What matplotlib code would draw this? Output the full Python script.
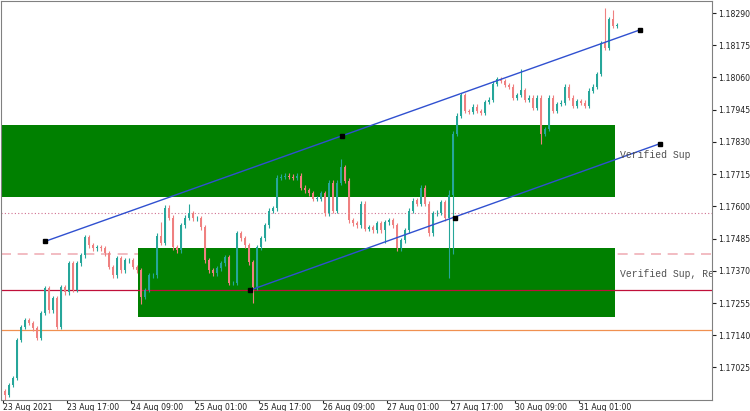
import matplotlib
matplotlib.use("Agg")
import matplotlib.pyplot as plt
import numpy as np

closes = [1.16927,1.16962,1.16987,1.17123,1.17169,1.17194,1.17183,1.17165,1.17130,1.17219,
1.17308,1.17229,1.17272,1.17169,1.17311,1.17293,1.17397,1.17301,1.17397,1.17425,
1.17489,1.17461,1.17450,1.17454,1.17450,1.17432,1.17383,1.17354,1.17415,1.17372,
1.17407,1.17407,1.17383,1.17372,1.17276,1.17301,1.17354,1.17354,1.17496,1.17471,
1.17596,1.17560,1.17454,1.17443,1.17532,1.17560,1.17575,1.17557,1.17557,1.17525,
1.17407,1.17372,1.17361,1.17379,1.17397,1.17418,1.17326,1.17326,1.17504,1.17486,
1.17461,1.17400,1.17311,1.17454,1.17486,1.17532,1.17585,1.17593,1.17703,
1.17706,1.17710,1.17706,1.17703,1.17710,1.17667,
1.17657,1.17646,1.17628,1.17628,1.17646,1.17575,1.17685,1.17585,1.17685,1.17739,
1.17692,1.17550,1.17539,1.17532,1.17610,1.17521,1.17525,1.17514,1.17539,1.17514,
1.17543,1.17550,1.17532,1.17450,1.17479,1.17514,1.17585,1.17621,1.17610,1.17667,
1.17610,1.17504,1.17575,1.17578,1.17614,1.17557,1.17639,
1.17860,1.17924,1.17998,1.17941,1.17938,1.17956,1.17941,1.17934,1.17973,1.17981,
1.18038,1.18055,1.18048,1.18034,1.18027,1.17988,1.17998,1.18016,1.17981,1.17988,
1.17952,1.17988,1.17860,1.17877,1.17988,1.17941,1.17966,1.17970,1.18027,1.17988,
1.17959,1.17977,1.17970,1.17959,1.18013,1.18027,1.18073,1.18184,1.18166,1.18269,
1.18244,1.18248]
first_open = 1.16940
default_wick = 0.00008
extreme_highs = {39: 1.17545, 46: 1.17610, 84: 1.17770, 111: 1.17660, 129: 1.18090, 150: 1.18308, 152: 1.18300}
extreme_lows = {0: 1.16910, 34: 1.17250, 62: 1.17255, 111: 1.17343, 112: 1.17430, 134: 1.17824, 95: 1.17470}

time_labels = ["23 Aug 2021","23 Aug 17:00","24 Aug 09:00","25 Aug 01:00","25 Aug 17:00",
               "26 Aug 09:00","27 Aug 01:00","27 Aug 17:00","30 Aug 09:00","31 Aug 01:00"]
ytick_vals = [1.17025,1.17140,1.17255,1.17370,1.17485,1.17600,1.17715,1.17830,1.17945,1.18060,1.18175,1.18290]

zones = [(-1.5, 152.5, 1.17632, 1.17892), (33.25, 152.5, 1.17204, 1.17450)]
zone_labels = [("Verified Sup", 1.17785), ("Verified Sup, Rete", 1.17358)]
hlines = [(1.17575, '#d07090', (0, (1, 2)), 0.8, 2), (1.17429, '#f0b0b8', (0, (6, 4)), 1.2, 0.5),
          (1.17301, '#c0103a', '-', 0.9, 2), (1.17158, '#f09050', '-', 0.9, 2)]
channel_upper = ([10, 84.25, 158.75], [1.17475, 1.17852, 1.18230])
channel_lower = ([61.25, 112.5, 163.75], [1.17301, 1.17560, 1.17824])

n = len(closes)
opens = [first_open] + closes[:-1]
highs, lows = [], []
for i in range(n):
    highs.append(extreme_highs.get(i, max(opens[i], closes[i]) + default_wick))
    lows.append(extreme_lows.get(i, min(opens[i], closes[i]) - default_wick))

fig = plt.figure(figsize=(7.5, 4.11), dpi=100)
ax = fig.add_axes([1/750, 11/411, 711/750, 399/411])
ax.set_xlim(-1.0, 176.75)
ax.set_ylim(1.16909, 1.18333)

for (x0, x1, y0, y1) in zones:
    ax.fill_between([x0, x1], y0, y1, color='#008000', zorder=1, lw=0)
for y, c, ls, lw, z in hlines:
    ax.axhline(y, color=c, ls=ls, lw=lw, zorder=z)

bull, bear = '#26a69a', '#ef8080'
for i in range(n):
    col = bull if closes[i] >= opens[i] else bear
    ax.vlines(i, lows[i], highs[i], color=col, lw=0.8, zorder=3)
    b0, b1 = sorted([opens[i], closes[i]])
    ax.bar(i, max(b1 - b0, 0.00002), bottom=b0, width=0.7, color=col, lw=0, zorder=4)

for xs, ys in (channel_upper, channel_lower):
    ax.plot([xs[0], xs[-1]], [ys[0], ys[-1]], color='#3050d0', lw=1, zorder=5)
    ax.plot(xs, ys, 's', color='black', ms=2.5, zorder=6)

for txt, y in zone_labels:
    ax.text(153.8, y, txt, family=['Liberation Mono', 'DejaVu Sans Mono'], fontsize=7, color='#505050',
            va='center', ha='left', zorder=7, clip_on=True)

ax.yaxis.tick_right()
ax.set_yticks(ytick_vals)
ax.set_yticklabels([f"{v:.5f}" for v in ytick_vals], fontsize=5.6)
ax.tick_params(axis='y', length=3, pad=1.5, colors='#202020')
ax.set_xticks([16*k - 0.5 for k in range(len(time_labels))])
ax.set_xticklabels(time_labels, fontsize=5.6, ha='left')
ax.tick_params(axis='x', length=2, pad=0.5, colors='#202020')
for s in ax.spines.values():
    s.set_color('#808080'); s.set_linewidth(0.8)

fig.savefig("out.png", dpi=100)
